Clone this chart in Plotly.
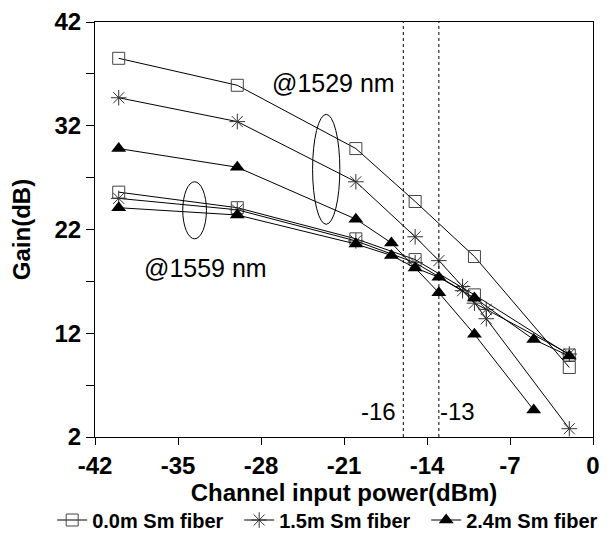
import plotly.graph_objects as go

# ---- data ----
sq_1529_x = [-40, -30, -20, -15, -10, -2]
sq_1529_y = [38.5, 35.9, 29.8, 24.7, 19.4, 8.7]
st_1529_x = [-40, -30, -20, -15, -13, -11, -9, -2]
st_1529_y = [34.7, 32.4, 26.6, 21.3, 19.0, 16.5, 13.4, 2.8]
tr_1529_x = [-40, -30, -20, -17, -13, -10, -5]
tr_1529_y = [29.8, 28.0, 23.0, 20.7, 15.9, 11.9, 4.6]

sq_1559_x = [-40, -30, -20, -15, -10, -2]
sq_1559_y = [25.6, 24.1, 21.1, 19.1, 15.7, 9.9]
st_1559_x = [-40, -30, -20, -15, -11, -10, -9, -2]
st_1559_y = [25.0, 23.9, 20.9, 18.8, 16.1, 14.9, 14.3, 10.0]
tr_1559_x = [-40, -30, -20, -17, -15, -13, -10, -5, -2]
tr_1559_y = [24.1, 23.4, 20.6, 19.5, 18.3, 17.4, 15.4, 11.4, 9.8]

series_names = ["0.0m Sm fiber", "1.5m Sm fiber", "2.4m Sm fiber"]
vlines_x = [-16, -13]
vline_labels = ["-16", "-13"]
x_ticks = [-42, -35, -28, -21, -14, -7, 0]
y_ticks = [2, 12, 22, 32, 42]
y_minor = [7, 17, 27, 37]

FONT = "Liberation Sans"

fig = go.Figure()

styles = [
    dict(symbol="square-open", size=12, color="#444444", line=dict(width=1, color="#444444")),
    dict(symbol="asterisk-open", size=13, color="#333333", line=dict(width=1, color="#333333")),
    dict(symbol="triangle-up", size=13, color="black", line=dict(width=0, color="black")),
]

groups = [
    (sq_1529_x, sq_1529_y, sq_1559_x, sq_1559_y),
    (st_1529_x, st_1529_y, st_1559_x, st_1559_y),
    (tr_1529_x, tr_1529_y, tr_1559_x, tr_1559_y),
]

for i, (xa, ya, xb, yb) in enumerate(groups):
    nm = "<b>%s</b>" % series_names[i]
    fig.add_trace(go.Scatter(x=xa, y=ya, mode="lines+markers", name=nm,
                             legendgroup=series_names[i],
                             line=dict(color="black", width=1), marker=styles[i]))
    fig.add_trace(go.Scatter(x=xb, y=yb, mode="lines+markers", name=nm,
                             legendgroup=series_names[i], showlegend=False,
                             line=dict(color="black", width=1), marker=styles[i]))

shapes = []
for vx in vlines_x:
    shapes.append(dict(type="line", xref="x", yref="y", x0=vx, x1=vx, y0=2, y1=42,
                       line=dict(color="black", width=1, dash="dot")))
# ellipses
shapes.append(dict(type="circle", xref="x", yref="y", x0=-23.65, x1=-21.35, y0=22.5, y1=33.1,
                   line=dict(color="black", width=1)))
shapes.append(dict(type="circle", xref="x", yref="y", x0=-34.6, x1=-32.6, y0=21.1, y1=26.6,
                   line=dict(color="black", width=1)))

AFONT = dict(family=FONT, size=25, color="black")
annotations = [
    dict(x=-27.2, y=36.1, xref="x", yref="y", text="@1529 nm", showarrow=False,
         font=AFONT, xanchor="left", yanchor="middle"),
    dict(x=-38.0, y=18.3, xref="x", yref="y", text="@1559 nm", showarrow=False,
         font=AFONT, xanchor="left", yanchor="middle"),
    dict(x=vlines_x[0] - 0.45, y=4.45, xref="x", yref="y", text=vline_labels[0], showarrow=False,
         font=dict(family=FONT, size=24, color="black"), xanchor="right", yanchor="middle"),
    dict(x=vlines_x[1] - 0.05, y=4.45, xref="x", yref="y", text=vline_labels[1], showarrow=False,
         font=dict(family=FONT, size=24, color="black"), xanchor="left", yanchor="middle"),
]

fig.update_layout(
    width=610, height=547,
    margin=dict(l=87, r=25, t=14, b=118, autoexpand=False),
    paper_bgcolor="white", plot_bgcolor="white",
    shapes=shapes, annotations=annotations,
    legend=dict(orientation="h", x=-0.086, xanchor="left", y=-0.2, yanchor="middle",
                font=dict(family=FONT, size=20, color="black"), bgcolor="rgba(0,0,0,0)",
                tracegroupgap=0, entrywidth=142, entrywidthmode="pixels"),
    font=dict(family=FONT, color="black"),
)

fig.update_xaxes(range=[-42, 0], tickvals=x_ticks, ticktext=["<b>%d</b>" % v for v in x_ticks],
                 showgrid=False, zeroline=False, showline=True, linecolor="black", linewidth=1,
                 mirror=True, ticks="outside", ticklen=7, tickcolor="black", automargin=False,
                 ticklabeloverflow="allow",
                 tickfont=dict(family=FONT, size=24, color="black"),
                 title=dict(text="<b>Channel input power(dBm)</b>", standoff=2,
                            font=dict(family=FONT, size=24, color="black")))
fig.update_yaxes(range=[2, 42], tickvals=y_ticks, ticktext=["<b>%d</b>" % v for v in y_ticks],
                 showgrid=False, zeroline=False, showline=True, linecolor="black", linewidth=1,
                 mirror=True, ticks="outside", ticklen=8, tickcolor="black", automargin=False,
                 ticklabeloverflow="allow",
                 minor=dict(tickvals=y_minor, ticks="outside", ticklen=8, tickcolor="black"),
                 tickfont=dict(family=FONT, size=24, color="black"),
                 title=dict(text="<b>Gain(dB)</b>", standoff=17,
                            font=dict(family=FONT, size=24, color="black")))

fig.write_html("out.html")
